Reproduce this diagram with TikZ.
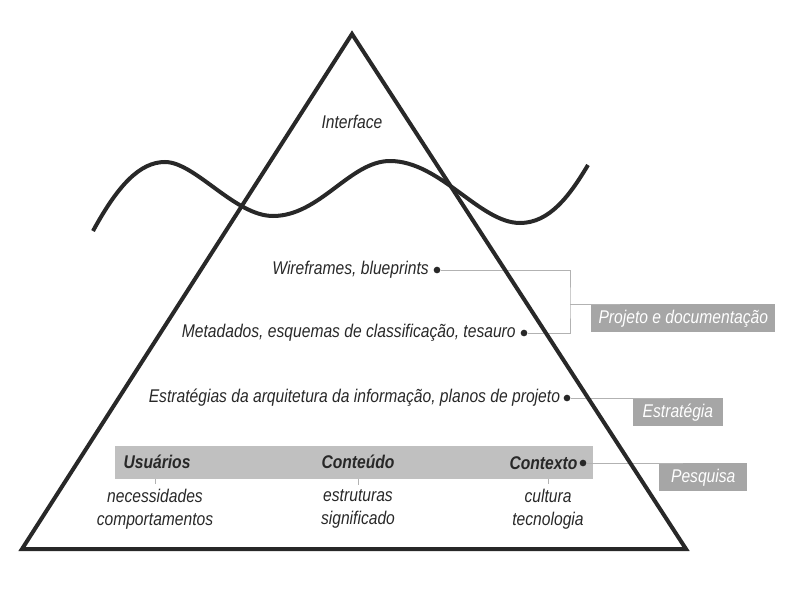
\documentclass[tikz,border=0pt]{standalone}
\usepackage{fontspec}
\setmainfont{Liberation Sans}[FakeStretch=0.85]
\usetikzlibrary{positioning}
\definecolor{darkline}{RGB}{40, 40, 40}
\definecolor{bandgray}{RGB}{192, 192, 192}
\definecolor{boxgray}{RGB}{166, 166, 166}
\definecolor{linkgray}{RGB}{178, 178, 178}

\begin{document}
\begin{tikzpicture}[x=0.75pt, y=-0.75pt,
    every node/.style={font=\fontsize{13.8}{17}\selectfont\itshape, text=darkline},
    head/.style={font=\fontsize{13.8}{17}\selectfont\itshape\bfseries},
    dot/.style={circle, fill=darkline, inner sep=0pt, minimum size=5pt},
    tag/.style={fill=boxgray, text=white, anchor=north west, inner sep=0pt, minimum height=21pt},
    link/.style={draw=linkgray, line width=0.6pt},
    tick/.style={draw=linkgray, line width=0.3pt},
    edge/.style={draw=darkline, line width=3pt}]
    \useasboundingbox (0,0) rectangle (800,600);

    % Band
    \node[fill=bandgray, minimum width=358.5pt, minimum height=24.75pt, inner sep=0pt] (band) at (354,462.5) {};

    % Levels
    \node (iface) at (352,122) {Interface};
    \node[dot] (d1) at (437,270) {};
    \node[left=0pt of d1] (wire) {Wireframes, blueprints};
    \node[dot] (d2) at (524,333) {};
    \node[left=0pt of d2] (meta) {Metadados, esquemas de classificação, tesauro};
    \node[dot] (d3) at (567,398) {};
    \node[left=-1pt of d3] (estr) {Estratégias da arquitetura da informação, planos de projeto};

    % Research
    \node[dot] (d4) at (583,463) {};
    \node[head, left=-2pt of d4] (ctx) {Contexto};
    \node[head] (usr) at (157,462) {Usuários};
    \node[head] (cnt) at (358,462) {Conteúdo};
    \node[align=center] (usrsub) at (155,509) {necessidades\\comportamentos};
    \node[align=center] (cntsub) at (358,509) {estruturas\\significado};
    \node[align=center] (ctxsub) at (548,509) {cultura\\tecnologia};

    % Tags
    \node[tag, minimum width=138pt] (proj) at (591,304) {Projeto e documentação};
    \node[tag, minimum width=67pt] (strat) at (633,398) {Estratégia};
    \node[tag, minimum width=66pt] (pesq) at (659,463) {Pesquisa};

    % Connections
    \coordinate (j1) at (570,304);
    \draw[link] (d1) -| (j1) |- (d2);
    \draw[link] (j1) -- ([xshift=22pt]proj.north west);
    \draw[link] (d3) -- ([xshift=28pt]strat.north west);
    \draw[link] (d4) -- ([xshift=18pt]pesq.north west);
    \draw[tick] (band.south -| usrsub.north) -- (usrsub.north);
    \draw[tick] (band.south -| cntsub.north) -- (cntsub.north);
    \draw[tick] (band.south -| ctxsub.north) -- (ctxsub.north);

    % Pyramid and water line
    \draw[edge, line join=miter] (352,34) -- (686,549) -- (22,549) -- cycle;
    \draw[edge] (93,231) .. controls (118,185) and (140,162) .. (165,162)
        .. controls (195,162) and (235,216) .. (273,216)
        .. controls (320,216) and (350,161) .. (390,161)
        .. controls (440,161) and (480,223) .. (520,223)
        .. controls (550,223) and (570,195) .. (588,165);
\end{tikzpicture}
\end{document}
